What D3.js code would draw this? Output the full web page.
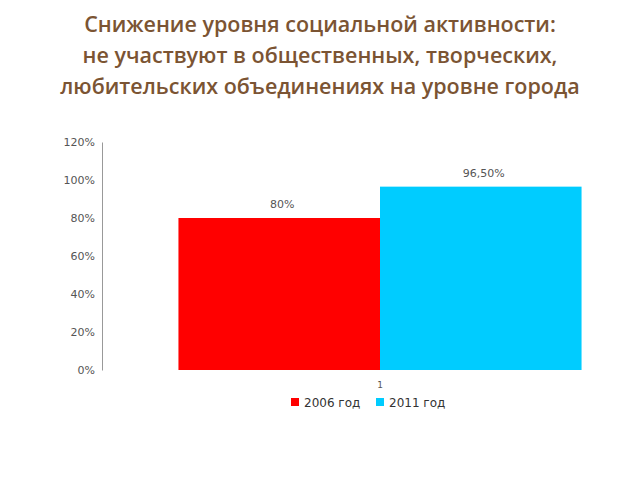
<!DOCTYPE html>
<html><head><meta charset="utf-8">
<script src="https://cdn.jsdelivr.net/npm/d3@7"></script>
<style>body{margin:0;background:#fff}svg{display:block}</style>
</head><body>
<script>
const titleLines = ["Снижение уровня социальной активности:", "не участвуют в общественных, творческих,", "любительских объединениях на уровне города"];
const categories = ["1"];
const seriesNames = ["2006 год", "2011 год"];
const seriesValues = [80, 96.5];
const valueLabels = ["80%", "96,50%"];
const yTicks = [0, 20, 40, 60, 80, 100, 120];
const yTickLabels = ["0%", "20%", "40%", "60%", "80%", "100%", "120%"];
const colors = ["#ff0000", "#00ccff"];

const W = 640, H = 480;
const svg = d3.select("body").append("svg").attr("width", W).attr("height", H);

svg.append("g").selectAll("text").data(titleLines).join("text")
  .attr("x", 320).attr("y", (d, i) => 32 + i * 31)
  .attr("text-anchor", "middle")
  .attr("font-family", "'Open Sans', sans-serif").attr("font-weight", 600)
  .attr("font-size", 21.5).attr("fill", "#7b5433")
  .text(d => d);

const y = d3.scaleLinear().domain([0, 120]).range([370, 142]);
const xCat = d3.scaleBand().domain(categories).range([102, 658]).paddingInner(0.275).paddingOuter(0.1375);
const xSer = d3.scaleBand().domain(seriesNames).range([0, xCat.bandwidth()]);

const font = "Tahoma, 'DejaVu Sans', sans-serif";
const gy = svg.append("g").attr("transform", "translate(102,0)")
  .call(d3.axisLeft(y).tickValues(yTicks).tickSize(0).tickPadding(7).tickFormat((d, i) => yTickLabels[i]));
gy.select(".domain").attr("stroke", "#999");
gy.selectAll("text").attr("font-family", font).attr("font-size", 11).attr("fill", "#555");

const gc = svg.append("g").selectAll("g").data(categories).join("g")
  .attr("transform", d => `translate(${xCat(d)},0)`);
gc.selectAll("rect").data(seriesValues.map((v, i) => ({ v, i }))).join("rect")
  .attr("x", d => xSer(seriesNames[d.i])).attr("width", xSer.bandwidth())
  .attr("y", d => y(d.v)).attr("height", d => y(0) - y(d.v))
  .attr("fill", d => colors[d.i]);
gc.selectAll("text.val").data(seriesValues.map((v, i) => ({ v, i }))).join("text")
  .attr("class", "val")
  .attr("x", d => xSer(seriesNames[d.i]) + xSer.bandwidth() / 2 + 3)
  .attr("y", d => y(d.v) - 10)
  .attr("text-anchor", "middle").attr("font-family", font).attr("font-size", 11).attr("fill", "#555")
  .text(d => valueLabels[d.i]);

svg.append("g").selectAll("text").data(categories).join("text")
  .attr("x", d => xCat(d) + xCat.bandwidth() / 2).attr("y", 388)
  .attr("text-anchor", "middle").attr("font-family", font).attr("font-size", 9).attr("fill", "#555")
  .text(d => d);

const legX = [291, 376];
const lg = svg.append("g").selectAll("g").data(seriesNames).join("g")
  .attr("transform", (d, i) => `translate(${legX[i]},398)`);
lg.append("rect").attr("width", 8).attr("height", 8).attr("fill", (d, i) => colors[i]);
lg.append("text").attr("x", 13).attr("y", 8.5).attr("font-family", font).attr("font-size", 12).attr("fill", "#333").text(d => d);
</script>
</body></html>
